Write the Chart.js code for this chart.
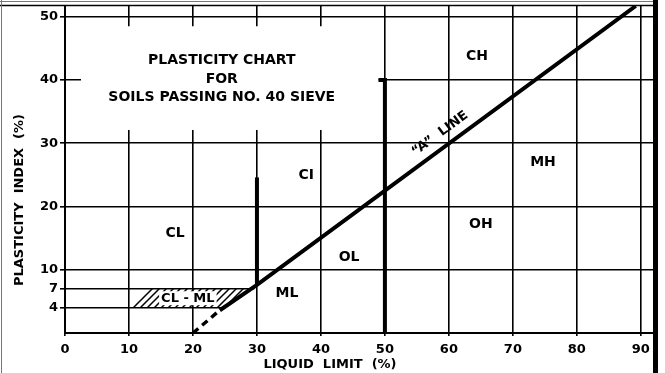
<!DOCTYPE html>
<html>
<head>
<meta charset="utf-8">
<script src="https://cdn.jsdelivr.net/npm/chart.js@4.4.0/dist/chart.umd.min.js"></script>
<style>
  html, body { margin: 0; padding: 0; background: #fff; }
  #wrap { width: 665px; height: 373px; }
</style>
</head>
<body>
<div id="wrap"><canvas id="plasticityChart" width="665" height="373"></canvas></div>
<script>
// axis ticks
var llTicks = [0, 10, 20, 30, 40, 50, 60, 70, 80, 90];
var piTicks = [4, 7, 10, 20, 30, 40, 50];

// "A" line (liquid limit, plasticity index): dashed at the foot, solid above
var aDashLL = [20, 24.2];
var aDashPI = [0, 3.6];
var aLineLL = [24.2, 30, 89.2];
var aLinePI = [3.6, 7.6, 51.7];

// heavy boundaries at LL 30 and LL 50
var ll30LL = [30, 30];
var ll30PI = [7.6, 24.6];
var ll50LL = [49, 50, 50];
var ll50PI = [40, 40, 0];

// PI 7 and PI 4 lines, stopping at the A line
var pi7LL = [0, 29.6];
var pi7PI = [7, 7];
var pi4LL = [0, 24.6];
var pi4PI = [4, 4];

// CL-ML band
var bandLL = [10, 12.8, 29.6, 24.6, 10];
var bandPI = [4, 7, 7, 4, 4];

// soil groups
var groupNames = ['CH', 'CI', 'CL', 'ML', 'OL', 'OH', 'MH'];

// ---- layout (in axis units) ----
var groupAt = [[64.4, 43.7], [37.7, 25], [17.2, 15.8], [34.7, 6.3], [44.4, 11.9], [65, 17.1], [74.7, 26.9]];
var bandLabelAt = [19.2, 5.4];
var aLabelAt = [58.6, 31.5];
var titleLines = ['PLASTICITY CHART', 'FOR', 'SOILS PASSING NO. 40 SIEVE'];
var titleAt = [[24.5, 43.1], [24.5, 40.1], [24.5, 37.3]];
var titleBox = { ll: [2.5, 49], pi: [32.1, 48.5] };

var FONT = 'DejaVu Sans';

function pts(xs, ys) {
  return xs.map(function (v, i) { return { x: v, y: ys[i] }; });
}

function hatchPattern() {
  var c = document.createElement('canvas');
  c.width = 7; c.height = 7;
  var g = c.getContext('2d');
  g.strokeStyle = '#000';
  g.lineWidth = 1.5;
  g.beginPath();
  g.moveTo(0, 7); g.lineTo(7, 0);
  g.moveTo(-1, 1); g.lineTo(1, -1);
  g.moveTo(6, 8); g.lineTo(8, 6);
  g.stroke();
  return g.createPattern(c, 'repeat');
}

function seg(data, width, dash) {
  return {
    data: data,
    showLine: true,
    borderColor: '#000',
    borderWidth: width,
    borderDash: dash || [],
    borderJoinStyle: 'miter',
    pointRadius: 0,
    fill: false
  };
}

function noPadding(s) {
  s.paddingTop = 0; s.paddingBottom = 0;
  s.paddingLeft = 0; s.paddingRight = 0;
}

var textPlugin = {
  id: 'chartText',
  beforeDatasetsDraw: function (chart) {
    var sx = chart.scales.x, sy = chart.scales.y, c = chart.ctx;
    // blank panel behind the chart title
    var l = sx.getPixelForValue(titleBox.ll[0]), r = sx.getPixelForValue(titleBox.ll[1]);
    var t = sy.getPixelForValue(titleBox.pi[1]), b = sy.getPixelForValue(titleBox.pi[0]);
    c.save();
    c.fillStyle = '#fff';
    c.fillRect(l, t, r - l, b - t);
    c.restore();
  },
  afterDatasetsDraw: function (chart) {
    var sx = chart.scales.x, sy = chart.scales.y, c = chart.ctx;
    var a = chart.chartArea;
    function px(p) { return [sx.getPixelForValue(p[0]), sy.getPixelForValue(p[1])]; }
    c.save();
    c.fillStyle = '#000';
    c.textAlign = 'center';
    c.textBaseline = 'middle';

    c.font = 'bold 14px "' + FONT + '"';
    titleLines.forEach(function (s, i) {
      var p = px(titleAt[i]);
      c.fillText(s, p[0], p[1]);
    });

    groupNames.forEach(function (s, i) {
      var p = px(groupAt[i]);
      c.fillText(s, p[0], p[1]);
    });

    // CL - ML label on a white patch inside the band
    var bp = px(bandLabelAt);
    c.font = 'bold 13px "' + FONT + '"';
    var w = c.measureText('CL - ML').width;
    c.fillStyle = '#fff';
    c.fillRect(bp[0] - w / 2 - 2, sy.getPixelForValue(6.6), w + 4, sy.getPixelForValue(4.4) - sy.getPixelForValue(6.6));
    c.fillStyle = '#000';
    c.fillText('CL - ML', bp[0], bp[1]);

    // "A" LINE along the line
    var ap = px(aLabelAt);
    var ang = Math.atan2(sy.getPixelForValue(aLinePI[2]) - sy.getPixelForValue(aLinePI[1]),
                         sx.getPixelForValue(aLineLL[2]) - sx.getPixelForValue(aLineLL[1]));
    c.save();
    c.translate(ap[0], ap[1]);
    c.rotate(ang);
    c.font = 'bold 13px "' + FONT + '"';
    c.fillText('\u201CA\u201D  LINE', 0, 0);
    c.restore();

    // axis titles
    c.font = 'bold 13px "' + FONT + '"';
    c.fillText('LIQUID  LIMIT  (%)', 330, 365);
    c.save();
    c.translate(20, 200);
    c.rotate(-Math.PI / 2);
    c.fillText('PLASTICITY  INDEX  (%)', 0, 0);
    c.restore();

    // outer frame
    c.strokeStyle = '#000';
    c.lineWidth = 5;
    c.beginPath();
    c.moveTo(a.right + 2.5, 0); c.lineTo(a.right + 2.5, chart.height);
    c.stroke();
    c.lineWidth = 1.5;
    c.beginPath();
    c.moveTo(0, a.top - 0.5); c.lineTo(a.right, a.top - 0.5);
    c.stroke();
    c.strokeStyle = '#777';
    c.lineWidth = 1;
    c.beginPath();
    c.moveTo(0, 1.5); c.lineTo(a.right, 1.5);
    c.moveTo(1.5, 0); c.lineTo(1.5, chart.height);
    c.stroke();
    c.restore();
  }
};

var band = seg(pts(bandLL, bandPI), 0);
band.fill = 'shape';
band.backgroundColor = hatchPattern();

var ctx = document.getElementById('plasticityChart').getContext('2d');
var chart = new Chart(ctx, {
  type: 'scatter',
  data: {
    datasets: [
      seg(pts(aLineLL, aLinePI), 4),
      seg(pts(aDashLL, aDashPI), 3.5, [7, 5]),
      seg(pts(ll30LL, ll30PI), 4),
      seg(pts(ll50LL, ll50PI), 4),
      seg(pts(pi7LL, pi7PI), 1.6),
      seg(pts(pi4LL, pi4PI), 1.6),
      band
    ]
  },
  options: {
    responsive: false,
    animation: false,
    layout: { padding: { top: 6, right: 12, left: 0, bottom: 0 } },
    plugins: {
      legend: { display: false },
      tooltip: { enabled: false }
    },
    scales: {
      x: {
        type: 'linear',
        min: 0,
        max: 91.9,
        afterBuildTicks: function (s) { s.ticks = llTicks.map(function (v) { return { value: v }; }); },
        afterFit: function (s) { s.height = 40; noPadding(s); },
        grid: { color: '#000', lineWidth: 1.6, tickLength: 3, tickColor: '#000' },
        border: { color: '#000', width: 2 },
        ticks: {
          color: '#000',
          font: { family: FONT, size: 13, weight: 'bold' },
          padding: 6,
          autoSkip: false,
          maxRotation: 0
        }
      },
      y: {
        type: 'linear',
        min: 0,
        max: 51.7,
        afterBuildTicks: function (s) { s.ticks = piTicks.map(function (v) { return { value: v }; }); },
        afterFit: function (s) { s.width = 65; noPadding(s); },
        grid: {
          color: function (c) { return (c.tick && c.tick.value < 10) ? 'rgba(0,0,0,0)' : '#000'; },
          lineWidth: 1.6,
          tickLength: 5,
          tickColor: '#000'
        },
        border: { color: '#000', width: 2 },
        ticks: {
          color: '#000',
          font: { family: FONT, size: 13, weight: 'bold' },
          padding: 2,
          autoSkip: false
        }
      }
    }
  },
  plugins: [textPlugin]
});
</script>
</body>
</html>
